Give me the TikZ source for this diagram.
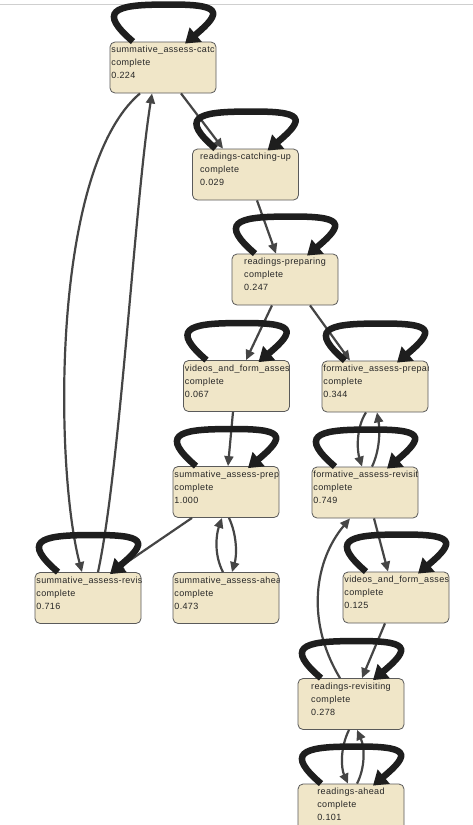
\documentclass[tikz,border=0pt]{standalone}
\usepackage{fontspec}
\setmainfont{Liberation Sans}
\newfontfamily\statefont[LetterSpace=4]{Liberation Sans}
\usetikzlibrary{arrows.meta,calc}
\definecolor{boxfill}{HTML}{F0E6C8}
\definecolor{boxline}{HTML}{5A5A5A}
\definecolor{edgecol}{HTML}{454545}
\definecolor{loopcol}{HTML}{1E1E1E}
\definecolor{txtcol}{HTML}{262626}
\definecolor{topcol}{HTML}{CFCFCF}
\tikzset{
  statebox/.style={draw=boxline, fill=boxfill, rounded corners=5pt, line width=0.8pt,
    minimum width=106pt, minimum height=51pt, inner sep=0pt},
  txt/.style={draw=none, fill=none, minimum size=0pt, inner sep=0pt, rounded corners=0pt,
    text=txtcol, align=left, font=\statefont\fontsize{9}{13}\selectfont},
  edge/.style={draw=edgecol, line width=2.2pt, -{Triangle[length=10pt,width=9pt]}},
  loopedge/.style={draw=loopcol, line width=6.5pt, -{Triangle[length=14pt,width=18pt]}},
}
\newcommand\stateC[5]{\node[statebox, path picture={\node[txt, anchor=north] (#1t) at ([yshift=-4pt]path picture bounding box.north) {#4\\complete\\#5};}] (#1) at (#2,#3) {};}
\newcommand\stateL[5]{\node[statebox, path picture={\node[txt, anchor=north west] (#1t) at ([xshift=1pt,yshift=-4pt]path picture bounding box.north west) {#4\\complete\\#5};}] (#1) at (#2,#3) {};}
\newcommand\selfloop[1]{\draw[loopedge] ($(#1.north)+(-30,0)$) .. controls ($(#1.north)+(-65,-30)$) and ($(#1.north)+(-50,-37)$) .. ($(#1.north)+(0,-37)$) .. controls ($(#1.north)+(60,-38)$) and ($(#1.north)+(60,-30)$) .. ($(#1.north)+(22,2)$);}
\begin{document}
\begin{tikzpicture}[x=1pt,y=-1pt]
\useasboundingbox (0,0) rectangle (473,825);
\fill[white] (0,0) rectangle (473,825);
\draw[topcol, line width=0.8pt] (0,4) -- (473,4);
% states
\stateL{n1}{163}{67.5}{summative\_assess-catc}{0.224}
\stateC{n2}{245.5}{174.5}{readings-catching-up}{0.029}
\stateC{n3}{285}{279.5}{readings-preparing}{0.247}
\stateL{n4}{236.5}{386}{videos\_and\_form\_asses}{0.067}
\stateL{n5}{375}{386.5}{formative\_assess-prepar}{0.344}
\stateL{n6}{226}{492}{summative\_assess-prep.}{1.000}
\stateL{n7}{365}{492.5}{formative\_assess-revisiti}{0.749}
\stateL{n8}{88}{598}{summative\_assess-revis}{0.716}
\stateL{n9}{226}{598}{summative\_assess-ahea}{0.473}
\stateL{n10}{396}{597.5}{videos\_and\_form\_asses}{0.125}
\stateC{n11}{351}{704}{readings-revisiting}{0.278}
\stateC{n12}{351}{809.5}{readings-ahead}{0.101}
% transitions
\draw[edge] ($(n1.south)+(18,0)$) -- ($(n2.north)+(-22.5,0)$);
\draw[edge] ($(n2.south)+(11.5,0)$) -- ($(n3.north)+(-9,0)$);
\draw[edge] ($(n3.south)+(-13,0)$) -- ($(n4.north)+(9.5,0)$);
\draw[edge] ($(n3.south)+(25,0)$) -- ($(n5.north)+(-25,0)$);
\draw[edge] ($(n4.south)+(-3.5,0)$) -- ($(n6.north)+(2,0)$);
\draw[edge] ($(n5.south)+(-9,0)$) .. controls (356,428) and (357,450) .. ($(n7.north)+(-3,0)$);
\draw[edge] ($(n7.north)+(7,0)$) .. controls (380,450) and (380,430) .. ($(n5.south)+(2,0)$);
\draw[edge] ($(n6.south)+(-34,0)$) -- ($(n8.north)+(26,-1)$);
\draw[edge] ($(n1.south)+(-23,0)$) .. controls (50,170) and (55,470) .. ($(n8.north)+(-6,0)$);
\draw[edge] ($(n8.north)+(10,0)$) .. controls (120,470) and (135,200) .. ($(n1.south)+(-11,0)$);
\draw[edge] ($(n9.north)+(-3,0)$) .. controls (214,555) and (216,535) .. ($(n6.south)+(-4,0)$);
\draw[edge] ($(n6.south)+(3,0)$) .. controls (237,535) and (237,555) .. ($(n9.north)+(6,0)$);
\draw[edge] ($(n7.south)+(9,0)$) -- ($(n10.north)+(-8,0)$);
\draw[edge] ($(n10.south)+(-11,0)$) -- ($(n11.north)+(11,0)$);
\draw[edge] ($(n11.north)+(-11,0)$) .. controls (305,620) and (315,560) .. ($(n7.south)+(-15,0)$);
\draw[edge] ($(n11.south)+(-2,0)$) .. controls (340,748) and (341,768) .. ($(n12.north)+(-3,0)$);
\draw[edge] ($(n12.north)+(6,0)$) .. controls (365,768) and (365,748) .. ($(n11.south)+(6,0)$);
% self loops
\selfloop{n1}
\selfloop{n2}
\selfloop{n3}
\selfloop{n4}
\selfloop{n5}
\selfloop{n6}
\selfloop{n7}
\selfloop{n8}
\selfloop{n10}
\selfloop{n11}
\selfloop{n12}
\end{tikzpicture}
\end{document}
